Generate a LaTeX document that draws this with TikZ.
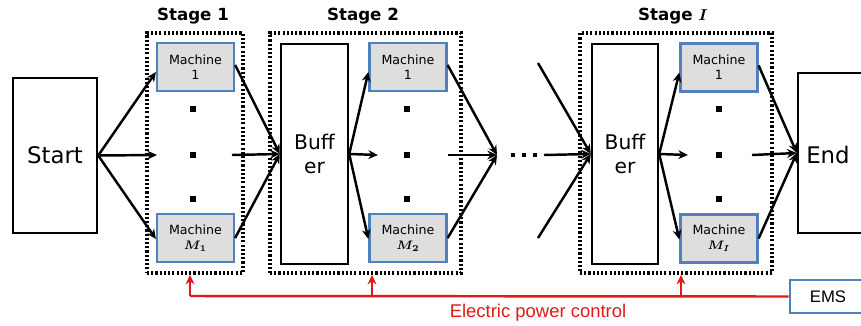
\documentclass[tikz,border=0pt]{standalone}
\usepackage{fontspec}
\usepackage{bm}
\setmainfont{DejaVu Sans}
\newfontfamily\libsans{Liberation Sans}
\usetikzlibrary{arrows.meta}
\definecolor{mblue}{RGB}{79,129,189}
\definecolor{mgray}{RGB}{222,222,222}
\definecolor{pred}{RGB}{225,25,25}
\begin{document}
\begin{tikzpicture}[x=0.02cm,y=-0.02cm,
  bigbox/.style={draw, line width=1.4pt, inner sep=0pt, align=center},
  stagebox/.style={draw, line width=2pt, dash pattern=on 1.2pt off 1.2pt, inner sep=0pt, minimum height=4.8cm},
  machine/.style={draw=mblue, fill=mgray, line width=1.3pt, minimum width=1.54cm, minimum height=0.96cm, inner sep=0pt, align=center, font=\fontsize{7.2}{8.5}\selectfont},
  flow/.style={line width=1.4pt, -{Stealth[length=5.5pt,width=5pt]}},
  dotsq/.style={fill, minimum size=3.8pt, inner sep=0pt},
  smalldot/.style={fill, minimum size=2.6pt, inner sep=0pt},
  ctrl/.style={draw=pred, line width=1.4pt, -{Stealth[length=5.5pt,width=5pt]}},
  stagelabel/.style={font=\fontsize{9.5}{11}\selectfont\bfseries},
  bigtext/.style={font=\fontsize{13}{15}\selectfont},
  buftext/.style={font=\fontsize{11.5}{14}\selectfont}
]
\useasboundingbox (0,0) rectangle (861,325);

% stage boxes
\node[stagebox, minimum width=1.92cm] (s1) at (195,153) {};
\node[stagebox, minimum width=3.82cm] (s2) at (365.5,153) {};
\node[stagebox, minimum width=3.84cm] (sI) at (676,153) {};
\node[stagelabel] (l1) at (193,16) {Stage 1};
\node[stagelabel] (l2) at (363,16) {Stage 2};
\node[stagelabel] (lI) at (673,16) {Stage $\bm{I}$};

% start / end
\node[bigbox, bigtext, minimum width=1.68cm, minimum height=3.1cm] (start) at (55,155.5) {Start};
\node[bigbox, minimum width=1.30cm, minimum height=3.2cm] (end) at (830.5,153) {};
\node[bigtext] (endt) at (828,155) {End};

% buffers
\node[bigbox, buftext, minimum width=1.34cm, minimum height=4.4cm] (buf2) at (314.5,154) {Buff\\er};
\node[bigbox, buftext, minimum width=1.32cm, minimum height=4.4cm] (bufI) at (625,154) {Buff\\er};

% machines
\node[machine] (m11) at (195.5,67) {Machine\\1};
\node[machine] (m1M) at (195.5,238) {Machine\\$\bm{M_1}$};
\node[machine] (m21) at (408,67) {Machine\\1};
\node[machine] (m2M) at (408,238) {Machine\\$\bm{M_2}$};
\node[machine] (mI1) at (719,67.5) {Machine\\1};
\node[machine] (mIM) at (719,238.5) {Machine\\$\bm{M_I}$};

% vertical dots
\foreach \x/\n in {193/va,407/vb,719/vc}{
  \node[dotsq] (\n1) at (\x,109) {};
  \node[dotsq] (\n2) at (\x,155) {};
  \node[dotsq] (\n3) at (\x,199) {};
}

% EMS
\node[draw=mblue, line width=1.5pt, minimum width=1.56cm, minimum height=0.66cm, inner sep=0pt] (ems) at (829,296.5) {};
\node[font=\libsans\fontsize{9.5}{11}\selectfont] (emst) at (828,296.5) {EMS};

% helper coordinates
\coordinate (c1in) at (157,155);
\coordinate (c1out) at (232,155);
\coordinate (c2in) at (378,155);
\coordinate (c2out) at (448,155);
\coordinate (join) at (497,155);
\coordinate (cont) at (544,155);
\coordinate (contT) at (538,63);
\coordinate (contB) at (538,238);
\coordinate (cIin) at (688,155);
\coordinate (cIout) at (752,155);
\coordinate (rb1) at (190,296);
\coordinate (rb2) at (372,296);
\coordinate (rbI) at (681,296);

% stage 1 flows
\draw[flow] (start.east) -- ([yshift=-0.1cm]m11.west);
\draw[flow] (start.east) -- ([yshift=-0.02cm]m1M.west);
\draw[flow] (start.east) -- (c1in);
\draw[flow] ([yshift=0.04cm]m11.east) -- (buf2.west);
\draw[flow] (m1M.east) -- (buf2.west);
\draw[flow] (c1out) -- (buf2.west);

% stage 2 flows
\draw[flow] (buf2.east) -- ([yshift=-0.1cm]m21.west);
\draw[flow] (buf2.east) -- ([yshift=-0.02cm]m2M.west);
\draw[flow] (buf2.east) -- (c2in);
\draw[flow] ([yshift=0.04cm]m21.east) -- (join);
\draw[flow] (m2M.east) -- (join);
\draw[flow] (c2out) -- (join);

% continuation dots
\node[smalldot] (d1) at (513,155) {};
\node[smalldot] (d2) at (524,155) {};
\node[smalldot] (d3) at (535,155) {};

% stage I flows
\draw[flow] (contT) -- (bufI.west);
\draw[flow] (contB) -- (bufI.west);
\draw[flow] (cont) -- (bufI.west);
\draw[flow] (bufI.east) -- ([yshift=-0.1cm]mI1.west);
\draw[flow] (bufI.east) -- ([yshift=-0.02cm]mIM.west);
\draw[flow] (bufI.east) -- (cIin);
\draw[flow] ([yshift=0.04cm]mI1.east) -- (end.west);
\draw[flow] (mIM.east) -- (end.west);
\draw[flow] (cIout) -- (end.west);

% electric power control
\draw[pred, line width=1.4pt] (ems.west) -- (rb1);
\draw[ctrl] (rb1) -- (rb1 |- s1.south);
\draw[ctrl] (rb2) -- (rb2 |- s2.south);
\draw[ctrl] (rbI) -- (rbI |- sI.south);
\node[text=pred, font=\libsans\fontsize{10.5}{12}\selectfont] (epc) at (538,313) {Electric power control};
\end{tikzpicture}
\end{document}
